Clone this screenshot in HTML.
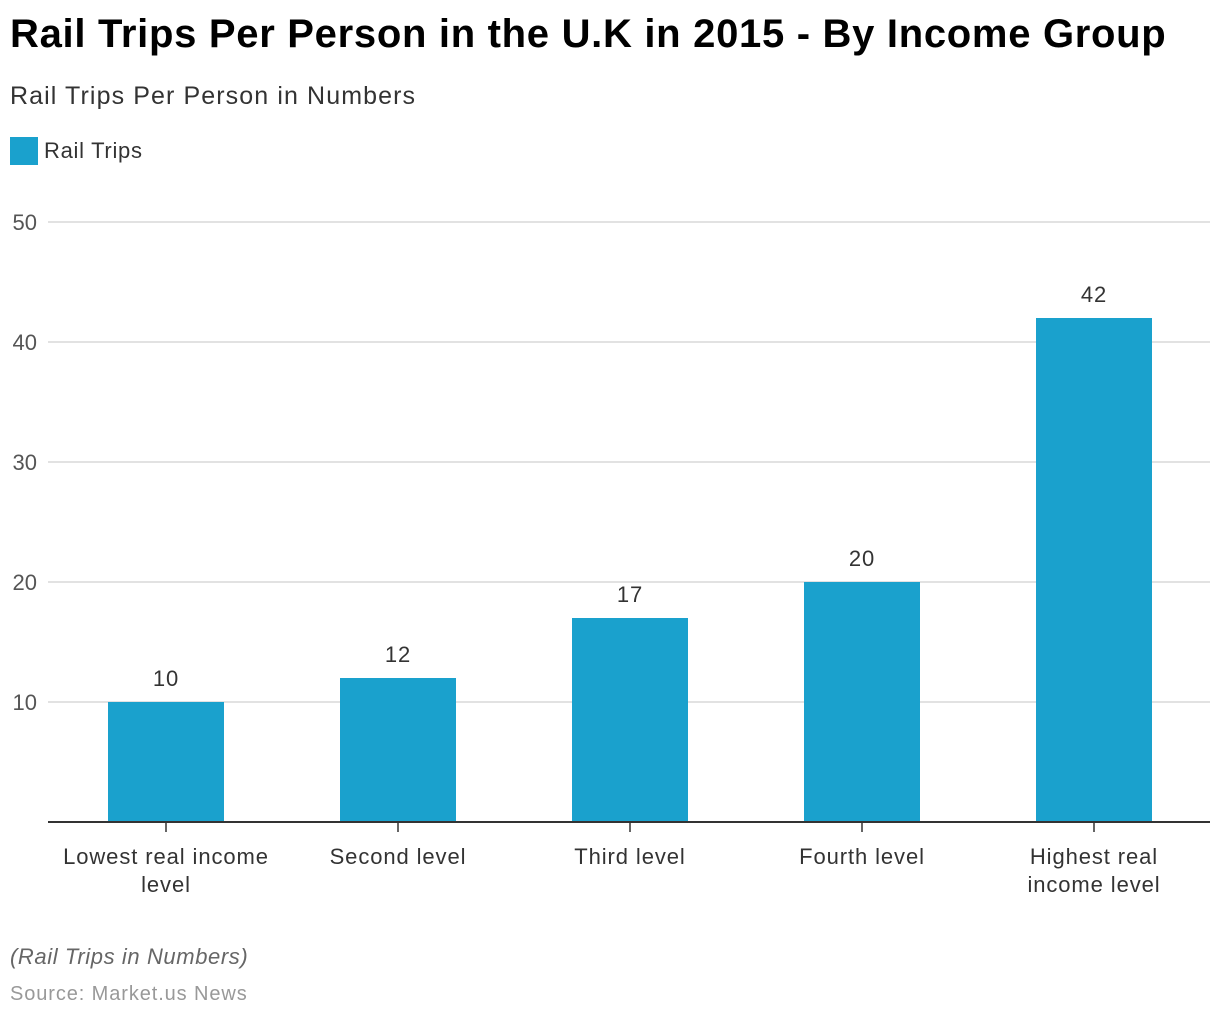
<!DOCTYPE html>
<html><head><style>
body{margin:0;width:1220px;height:1020px;background:#fff;font-family:"Liberation Sans",sans-serif;position:relative;overflow:hidden}
.a{position:absolute;white-space:nowrap}
</style></head><body>
<div class="a" style="left:10px;top:12px;font-size:40px;font-weight:bold;color:#000;letter-spacing:0.7px">Rail Trips Per Person in the U.K in 2015 - By Income Group</div>
<div class="a" style="left:10px;top:82px;font-size:25px;color:#333;letter-spacing:1.1px">Rail Trips Per Person in Numbers</div>
<div class="a" style="left:10px;top:137px;width:28px;height:28px;background:#1aa1cd"></div>
<div class="a" style="left:44px;top:137px;font-size:22px;color:#333;line-height:28px;letter-spacing:0.7px">Rail Trips</div>
<svg class="a" style="left:0;top:0" width="1220" height="1020">
<g stroke="#d9d9d9" stroke-width="1.5">
<line x1="48" x2="1210" y1="222" y2="222"/><line x1="48" x2="1210" y1="342" y2="342"/>
<line x1="48" x2="1210" y1="462" y2="462"/><line x1="48" x2="1210" y1="582" y2="582"/>
<line x1="48" x2="1210" y1="702" y2="702"/></g>
<g font-size="22" fill="#555" text-anchor="end" font-family="Liberation Sans">
<text x="37" y="230">50</text><text x="37" y="350">40</text><text x="37" y="470">30</text><text x="37" y="590">20</text><text x="37" y="710">10</text></g>
<g fill="#1aa1cd">
<rect x="108" y="702" width="116" height="120"/><rect x="340" y="678" width="116" height="144"/>
<rect x="572" y="618" width="116" height="204"/><rect x="804" y="582" width="116" height="240"/>
<rect x="1036" y="318" width="116" height="504"/></g>
<line x1="48" x2="1210" y1="822" y2="822" stroke="#333" stroke-width="2"/>
<g stroke="#333" stroke-width="1.5"><line x1="166" x2="166" y1="822" y2="832"/><line x1="398" x2="398" y1="822" y2="832"/><line x1="630" x2="630" y1="822" y2="832"/><line x1="862" x2="862" y1="822" y2="832"/><line x1="1094" x2="1094" y1="822" y2="832"/></g>
<g font-size="22" fill="#333" text-anchor="middle" font-family="Liberation Sans" letter-spacing="0.9">
<text x="166" y="686">10</text><text x="398" y="662">12</text><text x="630" y="602">17</text><text x="862" y="566">20</text><text x="1094" y="302">42</text>
<text x="166" y="864">Lowest real income</text><text x="166" y="892">level</text>
<text x="398" y="864">Second level</text><text x="630" y="864">Third level</text><text x="862" y="864">Fourth level</text>
<text x="1094" y="864">Highest real</text><text x="1094" y="892">income level</text></g>
</svg>
<div class="a" style="left:10px;top:944px;font-size:22px;font-style:italic;color:#666;letter-spacing:0.6px">(Rail Trips in Numbers)</div>
<div class="a" style="left:10px;top:983px;font-size:20px;color:#999;letter-spacing:0.9px">Source: Market.us News</div>
</body></html>
